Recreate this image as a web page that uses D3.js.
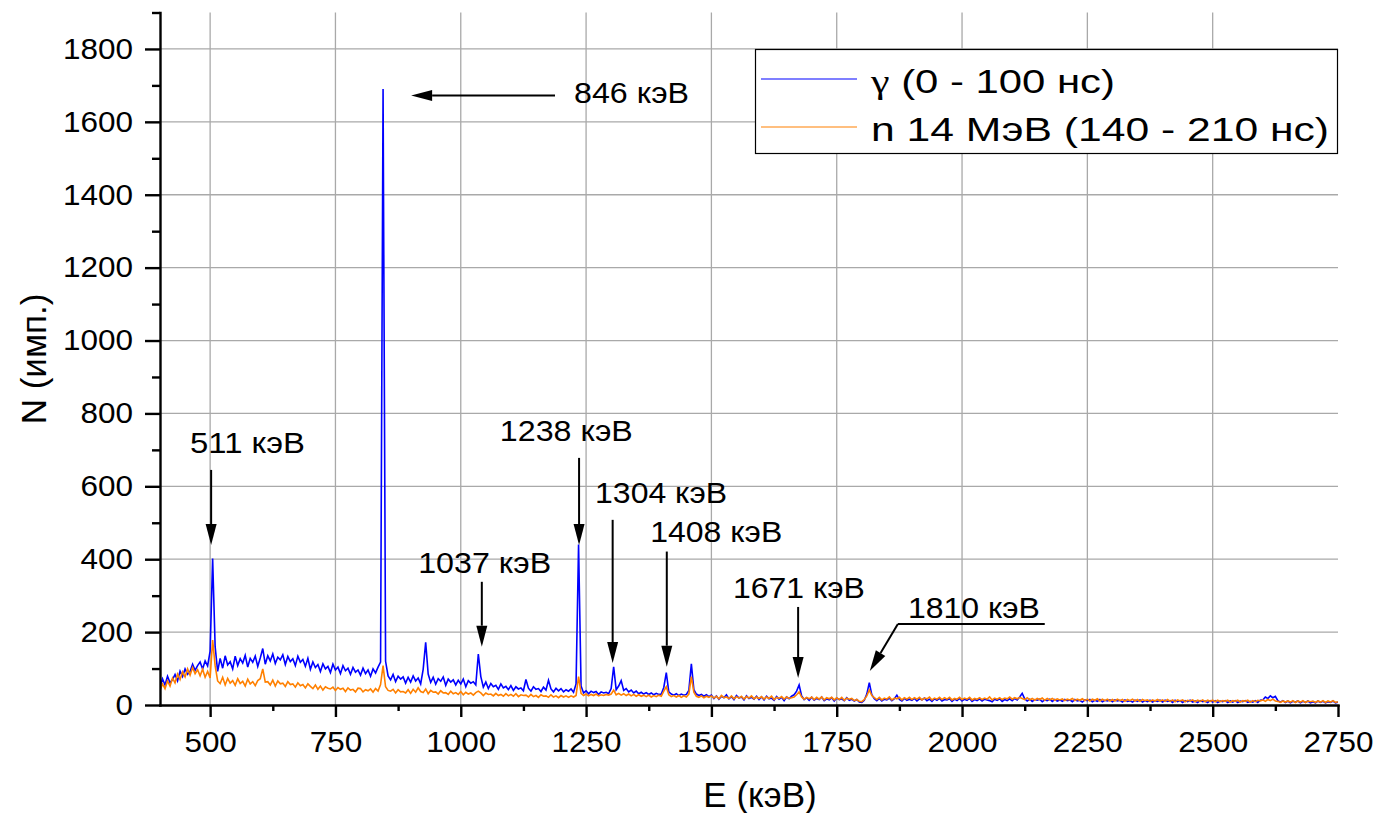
<!DOCTYPE html>
<html>
<head>
<meta charset="utf-8">
<script src="https://cdn.jsdelivr.net/npm/d3@7"></script>
<style>
body { margin: 0; background: #fff; }
text { font-family: Arial, "Liberation Sans", sans-serif; fill: #000; }
</style>
</head>
<body>
<svg width="1377" height="813"></svg>
<script>
// channel grid (keV)
var eStart = 400, eStep = 5;

// γ (0 - 100 нс), one row = 100 keV
var gammaCounts = [
  50,72,55,79,61,70,84,66,93,78,99,84,92,112,95,108,118,99,121,107,               // 400
  148,402,160,92,128,101,135,110,119,99,134,108,127,115,136,104,128,117,134,106,  // 500
  129,155,112,135,121,140,114,131,124,138,111,133,119,127,108,134,117,125,106,128, // 600
  98,118,103,111,92,113,99,106,89,112,96,104,86,108,94,101,84,103,90,96,          // 700
  82,101,86,96,79,99,88,104,118,1690,120,80,69,84,64,79,71,77,60,76,              // 800
  63,80,66,74,58,98,172,85,62,76,57,72,65,77,54,71,63,69,55,68,                   // 900
  58,71,50,67,60,64,55,140,78,49,63,45,59,50,54,43,58,47,51,42,                   // 1000
  53,40,50,44,47,39,70,46,38,50,43,45,37,49,41,68,44,36,46,39,                    // 1100
  45,36,42,38,44,35,58,440,52,33,39,31,38,34,37,29,36,33,35,31,                   // 1200
  45,105,42,52,67,40,45,36,41,33,38,31,35,30,34,29,33,28,32,29,                   // 1300
  30,48,89,36,30,27,31,26,30,27,29,40,113,42,30,26,29,24,28,23,                   // 1400
  27,18,25,16,24,20,28,17,23,15,26,19,22,14,25,18,21,16,24,15,                    // 1500
  22,14,24,17,19,13,23,16,21,12,22,17,24,28,38,55,25,15,20,13,                    // 1600
  21,13,18,15,22,12,17,14,20,11,19,15,17,12,20,13,16,11,15,8,                     // 1700
  7,13,30,61,28,17,12,18,11,16,14,19,12,17,27,15,11,18,13,16,                     // 1800
  13,18,11,17,14,19,12,16,10,17,13,18,11,15,14,17,10,16,12,18,                    // 1900
  11,16,13,18,10,15,12,17,11,16,14,12,9,16,13,17,10,15,12,17,                     // 2000
  12,18,14,22,32,17,11,16,10,15,13,16,9,14,12,16,10,15,11,14,                     // 2100
  10,15,12,14,9,15,11,13,8,14,12,15,9,13,10,15,9,13,11,14,                        // 2200
  9,14,11,13,8,14,10,12,8,13,10,14,8,12,9,13,8,12,10,13,                          // 2300
  8,13,10,12,7,13,9,12,7,12,9,13,8,11,7,12,9,11,7,12,                             // 2400
  8,12,7,11,9,12,7,11,8,12,7,11,9,12,7,10,8,12,7,13,                              // 2500
  14,22,18,25,20,24,12,8,12,7,11,6,10,8,11,6,10,7,11,6,                           // 2600
  9,6,11,7,10,6,9,7,11,6,8                                                        // 2700
];

// n 14 МэВ (140 - 210 нс)
var neutronCounts = [
  40,58,45,66,52,74,61,85,70,91,77,99,82,103,86,97,80,98,76,92,                   // 400
  74,178,108,66,59,76,55,73,60,67,54,72,59,65,52,71,58,64,53,67,                  // 500
  72,99,63,64,55,68,52,66,58,60,51,64,56,58,49,61,53,56,47,58,                    // 600
  51,45,55,43,52,41,50,46,44,49,40,48,43,46,37,47,41,43,36,46,                    // 700
  45,36,42,39,44,35,45,38,56,108,50,40,38,43,33,42,36,37,33,42,                   // 800
  32,43,35,47,37,34,44,31,40,35,36,30,39,33,34,29,38,31,34,29,                    // 900
  37,28,35,30,33,27,34,38,33,26,33,29,30,25,32,26,29,24,31,25,                    // 1000
  29,24,31,23,28,26,27,22,29,23,26,21,28,24,25,21,28,22,25,20,                    // 1100
  26,22,25,21,25,22,26,78,32,26,30,25,29,26,30,25,28,26,29,27,                    // 1200
  30,41,28,32,27,31,26,30,25,29,24,28,24,27,23,27,22,26,23,27,                    // 1300
  24,38,50,28,23,26,22,26,21,25,22,30,78,35,24,21,25,20,24,21,                    // 1400
  25,19,24,17,26,20,22,18,25,17,23,19,24,16,23,19,25,17,22,18,                    // 1500
  23,16,22,18,24,15,21,18,23,16,22,18,20,22,28,36,22,16,21,17,                    // 1600
  22,15,21,16,22,14,20,17,21,14,20,15,21,13,19,16,18,12,15,10,                    // 1700
  9,15,25,41,26,20,15,21,14,19,16,22,14,19,17,21,14,20,16,21,                     // 1800
  15,20,16,21,14,19,17,22,14,19,16,21,15,20,16,21,14,18,16,21,                    // 1900
  15,19,16,21,14,18,16,20,15,19,16,22,14,19,16,20,15,19,17,22,                    // 2000
  16,20,17,21,18,15,20,14,18,13,18,15,19,13,18,14,18,13,17,14,                    // 2100
  17,12,16,14,18,12,16,13,17,12,16,11,16,13,17,11,16,12,16,11,                    // 2200
  15,11,16,12,15,10,15,12,16,11,15,10,15,12,14,10,14,11,15,11,                    // 2300
  14,10,15,10,14,9,14,11,14,9,13,11,14,9,13,10,14,9,13,10,                        // 2400
  13,9,13,9,12,10,13,8,12,10,13,8,12,10,13,8,12,9,13,11,                          // 2500
  14,10,15,12,16,11,10,7,11,8,11,8,12,7,11,8,12,7,11,9,                           // 2600
  11,7,11,8,12,7,11,8,12,7,9                                                      // 2700
];

var seriesNames = ['γ (0 - 100 нс)', 'n 14 МэВ (140 - 210 нс)'];
var seriesColors = ['#0000ff', '#ff8000'];

var xTicks = [500, 750, 1000, 1250, 1500, 1750, 2000, 2250, 2500, 2750];
var xMinor = [625, 875, 1125, 1375, 1625, 1875, 2125, 2375, 2625];
var yTicks = [0, 200, 400, 600, 800, 1000, 1200, 1400, 1600, 1800];
var yMinor = [100, 300, 500, 700, 900, 1100, 1300, 1500, 1700, 1900];

// peak annotations: label, text anchor (keV, counts), arrow start -> tip (keV, counts)
var peakLabels = ['511 кэВ', '846 кэВ', '1037 кэВ', '1238 кэВ', '1304 кэВ', '1408 кэВ', '1671 кэВ', '1810 кэВ'];
var labelE = [460, 1226, 915, 1078, 1268, 1378, 1543, 1892];
var labelN = [691, 1652, 363, 724, 554, 448, 294, 239];
var arrowFrom = [[502, 645], [1188, 1672], [1042, 338], [1236, 678], [1303, 508], [1411, 421], [1673, 269], [1872, 222]];
var arrowTo = [[502, 439], [901, 1672], [1042, 160], [1236, 439], [1303, 115], [1411, 105], [1673, 74], [1816, 93]];

function main() {
    var svg = d3.select('svg');

    var x = d3.scaleLinear().domain([400, 2750]).range([160, 1338]);
    var y = d3.scaleLinear().domain([0, 1900]).range([705, 12.5]);

    var energies = gammaCounts.map(function(d, i) { return eStart + i * eStep; });

    // grid
    var grid = svg.append('g').attr('stroke', '#a9a9a9').attr('stroke-width', 1.3);
    grid.selectAll('.vg').data(xTicks.slice(0, -1)).enter().append('line')
        .attr('x1', function(d) { return x(d); }).attr('x2', function(d) { return x(d); })
        .attr('y1', y(0)).attr('y2', y(1900));
    grid.selectAll('.hg').data(yTicks.slice(1)).enter().append('line')
        .attr('x1', x(400)).attr('x2', x(2750))
        .attr('y1', function(d) { return y(d); }).attr('y2', function(d) { return y(d); });

    svg.append('clipPath').attr('id', 'plotClip').append('rect')
        .attr('x', x(400)).attr('y', y(1900)).attr('width', x(2750) - x(400)).attr('height', y(0) - y(1900) + 1);

    var line = d3.line()
        .x(function(d, i) { return x(energies[i]); })
        .y(function(d) { return y(d); });

    var plot = svg.append('g').attr('clip-path', 'url(#plotClip)');
    [gammaCounts, neutronCounts].forEach(function(s, k) {
        plot.append('path').datum(s)
            .attr('d', line)
            .attr('fill', 'none')
            .attr('stroke', seriesColors[k])
            .attr('stroke-width', 1.6)
            .attr('stroke-linejoin', 'miter');
    });

    // axes
    var fmt = d3.format('d');
    svg.append('g').attr('transform', 'translate(' + x(400) + ',0)')
        .call(d3.axisLeft(y).tickValues(yTicks).tickFormat(fmt).tickSize(15).tickSizeOuter(0).tickPadding(12));
    svg.append('g').attr('transform', 'translate(' + x(400) + ',0)')
        .call(d3.axisLeft(y).tickValues(yMinor).tickSize(8).tickFormat(''))
        .select('.domain').remove();

    svg.append('g').attr('transform', 'translate(0,' + y(0) + ')')
        .call(d3.axisBottom(x).tickValues(xTicks).tickFormat(fmt).tickSize(12).tickSizeOuter(0).tickPadding(14));
    svg.append('g').attr('transform', 'translate(0,' + y(0) + ')')
        .call(d3.axisBottom(x).tickValues(xMinor).tickSize(6).tickFormat(''))
        .select('.domain').remove();

    svg.selectAll('.domain').attr('stroke', '#000').attr('stroke-width', 2.4).attr('stroke-linecap', 'square');
    svg.selectAll('.tick line').attr('stroke', '#000').attr('stroke-width', 2.4);
    svg.selectAll('.tick text')
        .attr('font-family', 'Arial, "Liberation Sans", sans-serif')
        .attr('font-size', 29)
        .attr('fill', '#000')
        .attr('textLength', function() { return this.textContent.length * 17.5; })
        .attr('lengthAdjust', 'spacingAndGlyphs');

    // axis titles
    svg.append('text')
        .attr('x', 760).attr('y', 807)
        .attr('text-anchor', 'middle')
        .attr('font-size', 35)
        .text('E (кэВ)');
    svg.append('text')
        .attr('transform', 'translate(46,359) rotate(-90)')
        .attr('text-anchor', 'middle')
        .attr('font-size', 35)
        .text('N (имп.)');

    // annotations
    var ann = svg.append('g');
    var labelWidths = [115, 115, 133, 133, 132, 132, 132, 132];
    peakLabels.forEach(function(lbl, i) {
        ann.append('text')
            .attr('x', x(labelE[i])).attr('y', y(labelN[i]))
            .attr('font-size', 29)
            .attr('textLength', labelWidths[i]).attr('lengthAdjust', 'spacingAndGlyphs')
            .text(lbl);
        var x0 = x(arrowFrom[i][0]), y0 = y(arrowFrom[i][1]);
        var x1 = x(arrowTo[i][0]), y1 = y(arrowTo[i][1]);
        var dx = x1 - x0, dy = y1 - y0, len = Math.sqrt(dx * dx + dy * dy);
        var ux = dx / len, uy = dy / len, head = 21, hw = 5.5;
        var bx = x1 - ux * head, by = y1 - uy * head;
        ann.append('line')
            .attr('x1', x0).attr('y1', y0).attr('x2', bx).attr('y2', by)
            .attr('stroke', '#000').attr('stroke-width', 2);
        ann.append('path')
            .attr('d', 'M' + x1 + ',' + y1 +
                'L' + (bx - uy * hw) + ',' + (by + ux * hw) +
                'L' + (bx + uy * hw) + ',' + (by - ux * hw) + 'Z')
            .attr('fill', '#000');
    });
    // underline leader of the 1810 label
    ann.append('line')
        .attr('x1', x(1872)).attr('x2', x(2165))
        .attr('y1', y(222)).attr('y2', y(222))
        .attr('stroke', '#000').attr('stroke-width', 2);

    // legend
    var lg = svg.append('g');
    lg.append('rect')
        .attr('x', 755.5).attr('y', 49.5).attr('width', 582).attr('height', 104)
        .attr('fill', '#fff').attr('stroke', '#000').attr('stroke-width', 1.2);
    var legendWidths = [244, 458];
    seriesNames.forEach(function(name, k) {
        var ly = [79, 127][k];
        lg.append('line')
            .attr('x1', 761).attr('x2', 857).attr('y1', ly).attr('y2', ly)
            .attr('stroke', seriesColors[k]).attr('stroke-width', 1.2);
        var t = lg.append('text')
            .attr('x', 871).attr('y', ly + 14)
            .attr('font-size', 34)
            .attr('textLength', legendWidths[k]).attr('lengthAdjust', 'spacingAndGlyphs');
        if (name.charAt(0) === 'γ') {
            t.append('tspan').attr('font-family', '"Liberation Serif", "DejaVu Serif", serif')
                .text('γ');
            t.append('tspan').text(name.slice(1));
        } else {
            t.text(name);
        }
    });
}
main();
</script>
</body>
</html>
